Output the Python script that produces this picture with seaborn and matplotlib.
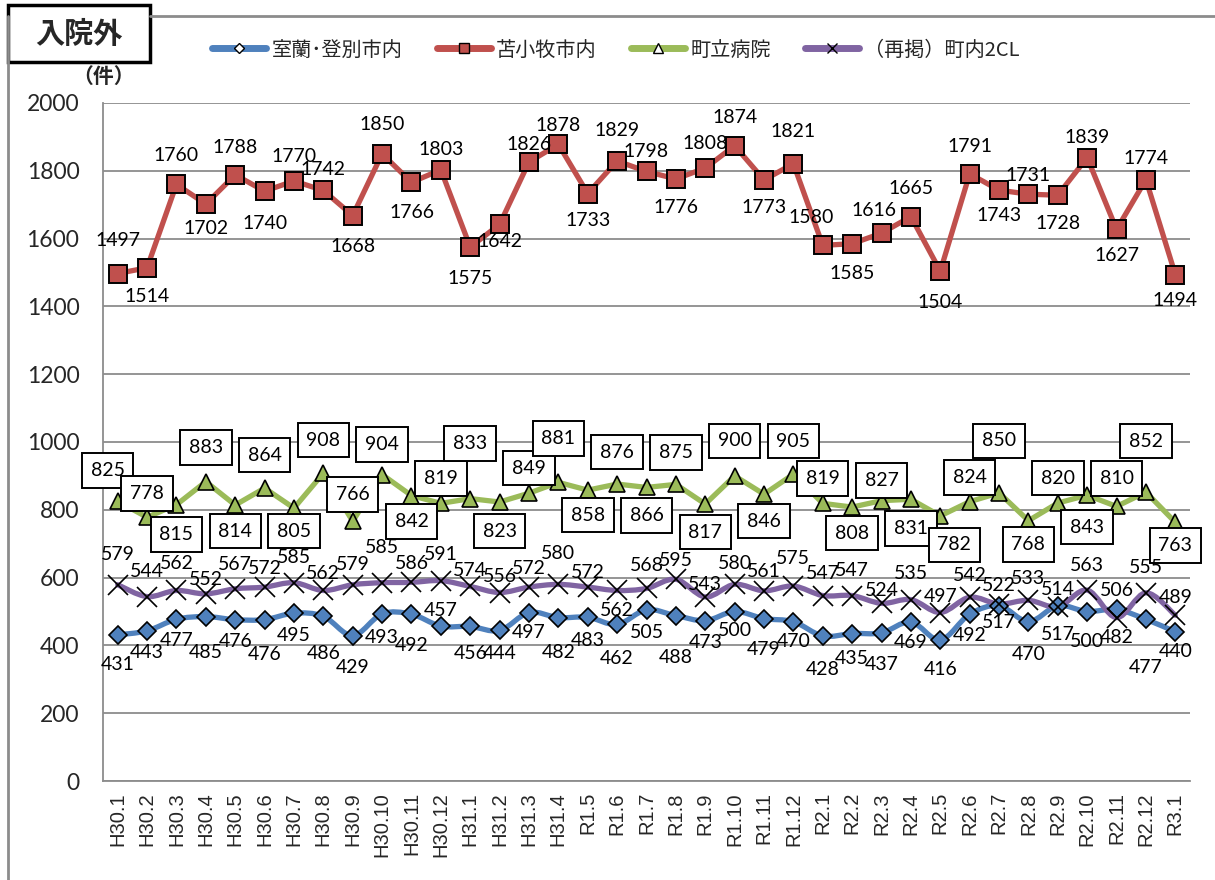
import matplotlib
matplotlib.use("Agg")
import matplotlib.pyplot as plt
import seaborn as sns
import pandas as pd
import numpy as np
from matplotlib.lines import Line2D
from matplotlib.patches import Rectangle, PathPatch
from matplotlib.path import Path

months = ["H30.1", "H30.2", "H30.3", "H30.4", "H30.5", "H30.6", "H30.7", "H30.8", "H30.9",
          "H30.10", "H30.11", "H30.12", "H31.1", "H31.2", "H31.3", "H31.4", "R1.5", "R1.6",
          "R1.7", "R1.8", "R1.9", "R1.10", "R1.11", "R1.12", "R2.1", "R2.2", "R2.3", "R2.4",
          "R2.5", "R2.6", "R2.7", "R2.8", "R2.9", "R2.10", "R2.11", "R2.12", "R3.1"]

muroran = [431, 443, 477, 485, 476, 476, 495, 486, 429, 493, 492, 457, 456, 444, 497, 482,
           483, 462, 505, 488, 473, 500, 479, 470, 428, 435, 437, 469, 416, 492, 517, 470,
           517, 500, 506, 477, 440]
tomakomai = [1497, 1514, 1760, 1702, 1788, 1740, 1770, 1742, 1668, 1850, 1766, 1803, 1575,
             1642, 1826, 1878, 1733, 1829, 1798, 1776, 1808, 1874, 1773, 1821, 1580, 1585,
             1616, 1665, 1504, 1791, 1743, 1731, 1728, 1839, 1627, 1774, 1494]
choritsu = [825, 778, 815, 883, 814, 864, 805, 908, 766, 904, 842, 819, 833, 823, 849, 881,
            858, 876, 866, 875, 817, 900, 846, 905, 819, 808, 827, 831, 782, 824, 850, 768,
            820, 843, 810, 852, 763]
chonai2cl = [579, 544, 562, 552, 567, 572, 585, 562, 579, 585, 586, 591, 574, 556, 572, 580,
             572, 562, 568, 595, 543, 580, 561, 575, 547, 547, 524, 535, 497, 542, 522, 533,
             514, 563, 482, 555, 489]

series_names = ["室蘭･登別市内", "苫小牧市内", "町立病院", "（再掲）町内2CL"]
yticks = [0, 200, 400, 600, 800, 1000, 1200, 1400, 1600, 1800, 2000]

# data-label placement (style only): vertical offset in pixels, + = above the point
red_dy = [33, -29, 29, -24, 27, -32, 24, 21, -31, 29, -30, 20, -31, -17, 17, 19, -27, 30, 20,
          -29, 25, 28, -28, 32, 28, -30, 23, 28, -31, 27, -25, 19, -28, 20, -26, 21, -26]
green_dy = [31, 24, -30, 34, -26, 33, -23, 33, 27, 30, -26, 25, 55, -29, 25, 44, -25, 32, -28,
            32, -28, 35, -27, 33, 25, -26, 20, -29, -29, 24, 52, -24, 25, -32, 28, 51, -23]
blue_dy = [-30, -22, -21, -36, -22, -35, -22, -37, -32, -24, -31, 16, -27, -23, -20, -35, -23,
           -34, -23, -42, -22, -19, -31, -20, -34, -25, -32, -20, -30, -21, -17, -33, -29, -30,
           19, -48, -20]
purple_dy = [30, 25, 27, 14, 24, 19, 25, 17, 20, 35, 19, 26, 16, 16, 19, 31, 15, -20, 23, 19,
             12, 21, 19, 28, 22, 25, 13, 26, 16, 22, 19, 22, 17, 25, -20, 25, 18]
red_dx = {24: -12, 26: -8}
green_dx = {0: -10, 28: 14}

W, H = 1215, 880
fig = plt.figure(figsize=(W / 100, H / 100), dpi=100)
sns.set_style("white")
plt.rcParams["font.family"] = ["Lato", "Noto Sans CJK JP", "DejaVu Sans"]

ax = fig.add_axes([103 / W, 1 - 781 / H, (1190 - 103) / W, (781 - 103) / H])

x = np.arange(len(months))
df = pd.DataFrame({"x": x, "muroran": muroran, "tomakomai": tomakomai,
                   "choritsu": choritsu, "chonai": chonai2cl})

c_blue, c_red, c_green, c_purple = "#4F81BD", "#C0504D", "#9BBB59", "#8064A2"
LW = 3.8


def smooth_line(xs, ys, color, z):
    """Excel-style smoothed line: cubic Bezier segments through the data points."""
    xs = np.asarray(xs, float)
    ys = np.asarray(ys, float)
    n = len(xs)
    verts = [(xs[0], ys[0])]
    codes = [Path.MOVETO]
    for i in range(n - 1):
        p0 = np.array([xs[max(i - 1, 0)], ys[max(i - 1, 0)]])
        p1 = np.array([xs[i], ys[i]])
        p2 = np.array([xs[i + 1], ys[i + 1]])
        p3 = np.array([xs[min(i + 2, n - 1)], ys[min(i + 2, n - 1)]])
        c1 = p1 + (p2 - p0) / 6.0
        c2 = p2 - (p3 - p1) / 6.0
        verts += [tuple(c1), tuple(c2), tuple(p2)]
        codes += [Path.CURVE4] * 3
    ax.add_patch(PathPatch(Path(verts, codes), fc="none", ec=color, lw=LW, zorder=z,
                           capstyle="round", joinstyle="round"))


sns.lineplot(data=df, x="x", y="muroran", ax=ax, color=c_blue, linestyle="", marker="D",
             markersize=9.5, markerfacecolor=c_blue, markeredgecolor="black",
             markeredgewidth=1.2, zorder=3)
smooth_line(df["x"], df["muroran"], c_blue, 2.5)
sns.lineplot(data=df, x="x", y="tomakomai", ax=ax, color=c_red, lw=LW, marker="s",
             markersize=12.5, markerfacecolor=c_red, markeredgecolor="black",
             markeredgewidth=1.4, zorder=3)
sns.lineplot(data=df, x="x", y="choritsu", ax=ax, color=c_green, lw=LW, marker="^",
             markersize=12, markerfacecolor=c_green, markeredgecolor="black",
             markeredgewidth=1.2, zorder=3)
sns.lineplot(data=df, x="x", y="chonai", ax=ax, color=c_purple, linestyle="", marker="x",
             markersize=15, markeredgecolor="black", markeredgewidth=1.2, zorder=4)
smooth_line(df["x"], df["chonai"], c_purple, 2.6)

ax.set_xlim(-0.5, len(months) - 0.5)
ax.set_ylim(0, 2000)
ax.set_yticks(yticks)
ax.set_yticklabels([str(v) for v in yticks], fontsize=16.5, family="Lato")
ax.set_xticks(x)
ax.set_xticklabels(months, rotation=90, fontsize=14.5, family="Liberation Sans")
ax.set_xticks(np.arange(-0.5, len(months), 1), minor=True)
ax.tick_params(axis="x", which="major", length=0, pad=8)
ax.tick_params(axis="x", which="minor", length=6, color="#888888", width=1.2, direction="out")
ax.tick_params(axis="y", length=7, color="#888888", width=1.2, direction="out", pad=10)
ax.set_xlabel("")
ax.set_ylabel("")
ax.grid(axis="y", color="#8c8c8c", lw=1.3)
ax.grid(axis="x", visible=False)
for s in ["top", "right"]:
    ax.spines[s].set_visible(False)
for s in ["left", "bottom"]:
    ax.spines[s].set_color("#8c8c8c")
    ax.spines[s].set_linewidth(1.3)

PX = 0.72  # points per pixel at dpi 100
LF = 14


def put_labels(values, dys, dxs, boxed=False):
    for i, v in enumerate(values):
        kw = {}
        if boxed:
            kw["bbox"] = dict(boxstyle="square,pad=0.45", fc="white", ec="black", lw=1.4)
        ax.annotate(str(v), (i, v), xytext=(dxs.get(i, 0) * PX, dys[i] * PX),
                    textcoords="offset points", ha="center", va="center", fontsize=LF,
                    color="black", zorder=6, **kw)


put_labels(tomakomai, red_dy, red_dx)
put_labels(choritsu, green_dy, green_dx, boxed=True)
put_labels(muroran, blue_dy, {})
put_labels(chonai2cl, purple_dy, {})

# legend
handles = [
    Line2D([0], [0], color=c_blue, lw=5, marker="D", markersize=5.5, markerfacecolor="white",
           markeredgecolor="black"),
    Line2D([0], [0], color=c_red, lw=5, marker="s", markersize=7, markerfacecolor=c_red,
           markeredgecolor="black"),
    Line2D([0], [0], color=c_green, lw=5, marker="^", markersize=6.5, markerfacecolor="white",
           markeredgecolor="black"),
    Line2D([0], [0], color=c_purple, lw=5, marker="x", markersize=6.5, markeredgecolor="black"),
]
fig.legend(handles, series_names, loc="center", bbox_to_anchor=(616 / W, 1 - 50 / H), ncol=4,
           frameon=False, prop={"family": ["Noto Sans CJK JP"], "size": 14.5},
           handlelength=2.7, columnspacing=1.7, handletextpad=0.25)

# frame and title box
fig.add_artist(Line2D([150 / W, 1.0], [1 - 16 / H, 1 - 16 / H], color="#8c8c8c", lw=2))
fig.add_artist(Line2D([8 / W, 8 / W], [0, 1 - 16 / H], color="#8c8c8c", lw=2))
fig.add_artist(Rectangle((8 / W, 1 - 62 / H), 142 / W, 57 / H, fc="white", ec="black", lw=2.5,
                         transform=fig.transFigure))
fig.text(79 / W, 1 - 34 / H, "入院外", ha="center", va="center", fontsize=21, fontweight="bold",
         family=["Noto Sans CJK JP"])
fig.text(104 / W, 1 - 76 / H, "（件）", ha="center", va="center", fontsize=15, fontweight="bold",
         family=["Noto Sans CJK JP"])

fig.savefig("out.png", dpi=100)
